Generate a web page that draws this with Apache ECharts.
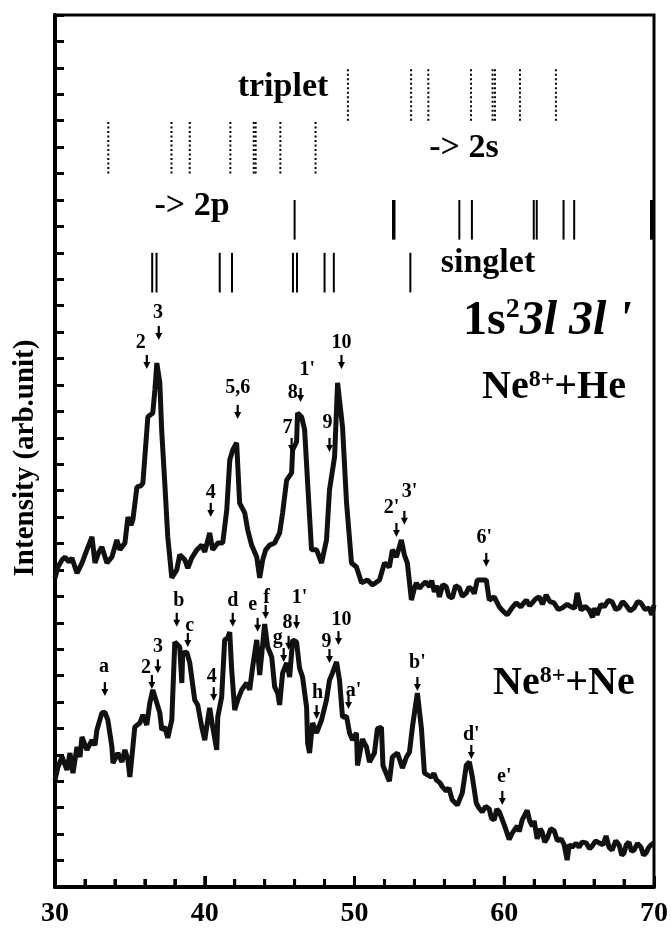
<!DOCTYPE html>
<html><head><meta charset="utf-8">
<script src="https://cdn.jsdelivr.net/npm/echarts@6/dist/echarts.min.js"></script>
<style>html,body{margin:0;padding:0;background:#fff}#c{width:671px;height:945px}</style>
</head><body><div id="c"></div>
<script>
// ---- data (x: energy-like axis 30..70, y: intensity arb. units 0..33) ----
const xTicks = [30, 40, 50, 60, 70];
const xMinorTicks = [32, 34, 36, 38, 42, 44, 46, 48, 52, 54, 56, 58, 62, 64, 66, 68];

const heSpectrum = [
[30.0,11.70],[30.2,12.11],[30.47,12.38],[30.67,12.49],[30.93,12.30],[31.13,12.45],[31.47,11.88],[31.8,12.26],[32.13,12.76],[32.47,13.25],[32.67,12.26],[32.93,12.68],[33.13,12.87],[33.47,12.26],[33.8,12.49],[34.13,13.13],[34.33,12.76],[34.67,13.02],[34.87,14.0],[35.07,13.70],[35.2,13.89],[35.47,15.14],[35.73,15.18],[35.87,15.29],[36.0,16.28],[36.2,17.79],[36.53,17.94],[36.67,18.81],[36.8,19.83],[37.0,19.08],[37.13,17.22],[37.33,15.29],[37.53,13.25],[37.8,11.70],[38.13,12.0],[38.33,12.57],[38.67,12.38],[38.87,12.07],[39.13,12.45],[39.47,12.76],[39.8,12.94],[40.0,12.68],[40.33,13.40],[40.53,12.76],[40.87,13.02],[41.2,13.02],[41.47,14.27],[41.67,16.16],[41.87,16.54],[42.13,16.81],[42.33,14.53],[42.67,14.16],[42.87,13.51],[43.13,12.94],[43.47,12.49],[43.67,11.70],[43.87,12.38],[44.07,12.76],[44.33,12.94],[44.67,13.02],[45.0,13.40],[45.2,14.16],[45.47,15.40],[45.8,15.67],[45.87,16.54],[46.13,16.84],[46.2,17.94],[46.47,17.79],[46.67,17.30],[46.87,15.29],[47.13,12.76],[47.47,12.76],[47.8,12.26],[48.13,13.13],[48.33,15.03],[48.67,16.28],[48.87,19.08],[49.2,17.41],[49.47,14.53],[49.8,12.26],[50.13,12.11],[50.47,11.51],[50.87,11.62],[51.2,11.43],[51.67,11.62],[52.0,12.26],[52.33,12.11],[52.53,12.76],[52.8,12.49],[53.13,13.13],[53.33,12.57],[53.53,12.26],[53.8,10.86],[54.0,11.3],[54.13,11.51],[54.33,11.3],[54.53,11.43],[54.75,11.55],[55.0,11.36],[55.15,11.6],[55.33,11.17],[55.5,11.4],[55.67,10.98],[55.9,11.45],[56.13,11.36],[56.3,11.0],[56.53,10.94],[56.75,11.4],[57.0,11.32],[57.2,11.0],[57.47,11.13],[57.65,11.35],[57.87,11.24],[58.0,11.1],[58.2,11.62],[58.8,11.62],[59.0,10.86],[59.33,10.98],[59.67,10.60],[59.9,10.45],[60.2,10.30],[60.5,10.55],[60.8,10.75],[61.1,10.6],[61.47,10.86],[61.7,10.65],[61.87,10.75],[62.1,10.9],[62.33,10.98],[62.55,10.7],[62.8,11.05],[63.05,10.8],[63.33,10.75],[63.6,10.5],[63.87,10.56],[64.2,10.7],[64.47,10.60],[64.7,10.55],[64.87,11.13],[65.0,11.1],[65.13,10.48],[65.4,10.62],[65.67,10.48],[65.9,10.2],[66.0,10.55],[66.2,10.30],[66.45,10.7],[66.67,10.60],[66.95,10.85],[67.2,10.79],[67.45,10.5],[67.67,10.56],[67.9,10.8],[68.13,10.67],[68.4,10.45],[68.67,10.56],[68.9,10.8],[69.13,10.75],[69.4,10.5],[69.67,10.56],[69.85,10.3],[70.0,10.67]
];

const neSpectrum = [
[30.0,4.05],[30.2,4.54],[30.47,4.92],[30.8,4.43],[31.0,5.07],[31.2,4.31],[31.47,5.30],[31.67,4.92],[31.8,5.68],[32.13,5.19],[32.47,5.56],[32.67,5.37],[32.8,5.94],[33.13,6.59],[33.33,6.62],[33.53,6.32],[33.8,5.30],[33.87,4.69],[34.2,5.07],[34.47,4.73],[34.67,5.19],[34.87,4.81],[35.0,4.16],[35.2,5.30],[35.33,6.06],[35.67,6.21],[35.87,6.51],[36.13,6.13],[36.33,6.96],[36.53,7.46],[36.8,6.96],[37.0,6.59],[37.13,5.94],[37.33,6.06],[37.53,5.64],[37.8,6.32],[38.0,9.27],[38.33,9.08],[38.47,7.72],[38.53,8.86],[38.8,8.89],[39.0,8.48],[39.33,7.08],[39.53,6.89],[39.8,6.06],[40.0,5.56],[40.2,6.32],[40.33,6.78],[40.53,6.06],[40.8,5.19],[40.87,6.43],[41.13,7.19],[41.2,7.95],[41.33,9.35],[41.53,9.42],[41.67,9.65],[41.8,8.21],[42.0,6.70],[42.2,7.08],[42.47,7.46],[42.8,7.72],[43.0,7.46],[43.2,8.33],[43.47,9.35],[43.67,8.02],[44.0,9.95],[44.2,9.08],[44.47,8.71],[44.67,7.57],[44.87,7.34],[45.0,6.89],[45.2,8.10],[45.47,8.48],[45.67,7.95],[45.87,9.35],[46.13,9.27],[46.33,8.29],[46.53,7.95],[46.8,6.81],[46.87,5.45],[47.0,5.07],[47.2,6.21],[47.47,5.83],[47.8,6.32],[48.13,7.08],[48.33,7.83],[48.53,8.10],[48.8,8.52],[49.0,7.83],[49.2,6.43],[49.47,6.45],[49.67,5.83],[49.87,5.56],[50.13,5.83],[50.2,4.6],[50.53,5.6],[50.8,5.3],[51.0,4.73],[51.33,5.07],[51.53,6.0],[51.8,6.04],[51.9,4.6],[52.33,4.0],[52.53,4.92],[52.87,5.07],[53.2,4.5],[53.47,4.92],[53.67,5.1],[53.87,6.06],[54.13,7.08],[54.2,7.34],[54.47,6.0],[54.67,4.31],[55.13,4.16],[55.3,4.3],[55.47,4.05],[55.7,3.95],[55.87,3.79],[56.13,3.63],[56.3,3.75],[56.53,3.29],[56.87,3.10],[57.2,3.56],[57.47,4.62],[57.67,4.73],[57.87,4.16],[58.13,3.18],[58.3,3.0],[58.53,2.84],[58.75,3.05],[59.0,2.95],[59.15,2.6],[59.33,2.54],[59.5,2.95],[59.67,2.84],[60.0,2.35],[60.33,1.8],[60.53,2.04],[60.87,2.31],[61.0,2.1],[61.2,2.54],[61.53,2.9],[61.7,2.5],[61.87,2.3],[62.0,2.5],[62.2,1.82],[62.4,2.2],[62.53,2.08],[62.7,1.7],[62.87,1.85],[63.1,2.2],[63.33,2.14],[63.55,1.75],[63.8,1.82],[64.0,1.6],[64.2,1.02],[64.35,1.6],[64.53,1.51],[64.8,1.65],[65.0,1.51],[65.2,1.7],[65.47,1.67],[65.7,1.45],[65.87,1.55],[66.1,1.75],[66.33,1.67],[66.6,1.6],[66.8,1.93],[67.0,1.5],[67.2,1.40],[67.45,1.75],[67.67,1.59],[67.85,1.2],[68.0,1.29],[68.15,1.6],[68.33,1.70],[68.5,1.35],[68.67,1.40],[68.9,1.65],[69.13,1.51],[69.3,1.2],[69.47,1.29],[69.65,1.5],[69.8,1.59],[70.0,1.67]
];

// transition sticks (x positions) and the y-span of each row
const tripletUpperX = [49.56, 53.78, 54.93, 57.78, 59.22, 59.38, 61.05, 63.45];
const tripletUpperSpan = [29, 31];
const tripletLowerX = [33.56, 37.78, 39.0, 41.71, 43.27, 43.4, 45.05, 47.4];
const tripletLowerSpan = [27, 29];
const singletUpperX = [46.0, 52.57, 52.67, 57.0, 57.84, 61.97, 62.17, 63.96, 64.67, 69.8, 69.9];
const singletUpperSpan = [24.5, 26];
const singletLowerX = [36.49, 36.78, 41.0, 41.82, 45.89, 46.16, 48.0, 48.62, 53.73];
const singletLowerSpan = [22.5, 24];

// peak labels [text, x, y] and arrows [x, y]
const heLabels = [['2',35.73,20.59],['3',36.87,21.73],['4',40.4,14.91],['5,6',42.2,18.89],['7',45.53,17.37],['8',45.87,18.70],["1'",46.85,19.57],['9',48.2,17.56],['10',49.13,20.59],["2'",52.47,14.35],["3'",53.67,14.95],["6'",58.67,13.21]];
const heArrows = [[36.13,19.87],[36.93,20.97],[40.4,14.27],[42.2,17.98],[45.8,16.73],[46.4,18.62],[48.33,16.73],[49.13,19.87],[52.8,13.51],[53.33,13.97],[58.8,12.38]];
const neLabels = [['a',33.27,8.33],['2',36.07,8.29],['3',36.87,9.08],['b',38.27,10.83],['c',39.0,9.88],['4',40.47,7.95],['d',41.87,10.83],['e',43.2,10.67],['f',44.13,10.94],['g',44.87,9.42],['8',45.53,9.99],["1'",46.33,10.94],['h',47.53,7.34],['9',48.13,9.27],['10',49.13,10.11],["a'",49.93,7.42],["b'",54.2,8.48],["d'",57.8,5.75],["e'",60.0,4.16]];
const neArrows = [[33.33,7.49],[36.47,7.76],[36.87,8.35],[38.13,10.11],[38.87,9.35],[40.6,7.30],[41.87,10.11],[43.53,9.92],[44.07,10.41],[45.27,8.78],[45.6,9.24],[46.13,10.03],[47.47,6.62],[48.33,8.74],[48.93,9.42],[49.6,7.0],[54.2,7.68],[57.8,5.11],[59.87,3.37]];

// ---- chart ----
const FONT = '"Liberation Serif", "Times New Roman", serif';
const chart = echarts.init(document.getElementById('c'), null, {renderer: 'canvas'});

function stickRows(xs, span) { return xs.map(x => [x, span[0], span[1]]); }
function stickSeries(data, dash, width) {
  return {
    type: 'custom', coordinateSystem: 'cartesian2d', silent: true, z: 3,
    encode: {x: 0, y: [1, 2]}, data: data,
    renderItem: function (params, api) {
      const a = api.coord([api.value(0), api.value(1)]);
      const b = api.coord([api.value(0), api.value(2)]);
      return {type: 'line', shape: {x1: a[0], y1: a[1], x2: b[0], y2: b[1]},
        style: {stroke: '#000', lineWidth: width, lineDash: dash, lineCap: 'butt'}};
    }
  };
}
function tickSeries(values, len) {
  return {
    type: 'custom', coordinateSystem: 'cartesian2d', silent: true, z: 100, clip: false,
    data: values.map(v => [v, 0]),
    renderItem: function (params, api) {
      const p = api.coord([api.value(0), api.value(1)]);
      return {type: 'line', shape: {x1: p[0], y1: p[1], x2: p[0], y2: p[1] - len},
        style: {stroke: '#000', lineWidth: 3}};
    }
  };
}
function labelSeries(list, size) {
  return {
    type: 'custom', coordinateSystem: 'cartesian2d', silent: true, z: 5,
    data: list.map(d => [d[1], d[2]]),
    renderItem: function (params, api) {
      const p = api.coord([api.value(0), api.value(1)]);
      return {type: 'text', x: p[0], y: p[1],
        style: {text: list[params.dataIndex][0], align: 'center', verticalAlign: 'middle',
          fontFamily: FONT, fontWeight: 'bold', fontSize: size, fill: '#000'}};
    }
  };
}
function arrowSeries(list) {
  return {
    type: 'custom', coordinateSystem: 'cartesian2d', silent: true, z: 5,
    data: list,
    renderItem: function (params, api) {
      const c = api.coord([api.value(0), api.value(1)]);
      return {type: 'group', children: [
        {type: 'line', shape: {x1: c[0], y1: c[1] - 7, x2: c[0], y2: c[1] + 1},
          style: {stroke: '#000', lineWidth: 2.2}},
        {type: 'polygon', shape: {points: [[c[0] - 3.5, c[1]], [c[0] + 3.5, c[1]], [c[0], c[1] + 7]]},
          style: {fill: '#000'}}
      ]};
    }
  };
}
function richText(left, top, text, mainSize, mainLH, supSize, supLH) {
  return {type: 'text', left: left, top: top, style: {
    text: text,
    rich: {
      n: {fontFamily: FONT, fontWeight: 'bold', fontSize: mainSize, lineHeight: mainLH, fill: '#000'},
      s: {fontFamily: FONT, fontWeight: 'bold', fontSize: supSize, lineHeight: supLH, verticalAlign: 'top', fill: '#000'},
      i: {fontFamily: FONT, fontWeight: 'bold', fontStyle: 'italic', fontSize: mainSize, lineHeight: mainLH, fill: '#000'}
    }}};
}
function plainText(x, y, text, size) {
  return {type: 'text', x: x, y: y, style: {text: text, align: 'center', verticalAlign: 'middle',
    fontFamily: FONT, fontWeight: 'bold', fontSize: size, fill: '#000'}};
}

const option = {
  animation: false,
  backgroundColor: '#fff',
  grid: {left: 55, right: 16, top: 15, bottom: 58, show: true, borderColor: '#000', borderWidth: 3},
  xAxis: {
    type: 'value', min: xTicks[0], max: xTicks[xTicks.length - 1], interval: 10,
    axisLine: {show: true, onZero: false, lineStyle: {color: '#000', width: 4}},
    axisTick: {show: true, inside: true, length: 11, lineStyle: {color: '#000', width: 3}},
    minorTick: {show: true, splitNumber: 5, length: 8, lineStyle: {color: '#000', width: 3}},
    axisLabel: {show: true, color: '#000', fontFamily: FONT, fontWeight: 'bold', fontSize: 28, margin: 13},
    splitLine: {show: false}, minorSplitLine: {show: false}
  },
  yAxis: {
    type: 'value', min: 0, max: 33, interval: 1,
    axisLine: {show: true, onZero: false, lineStyle: {color: '#000', width: 4}},
    axisTick: {show: true, inside: true, length: 9, lineStyle: {color: '#000', width: 3}},
    axisLabel: {show: false},
    splitLine: {show: false}
  },
  graphic: [
    {type: 'text', x: 26, y: 458, rotation: Math.PI / 2,
      style: {text: 'Intensity (arb.unit)', align: 'center', verticalAlign: 'middle', fontFamily: FONT, fontWeight: 'bold', fontSize: 29, fill: '#000'}},
    plainText(283, 87, 'triplet', 34),
    plainText(464, 148, '-> 2s', 34),
    plainText(192, 206, '-> 2p', 34),
    plainText(488, 263, 'singlet', 34),
    richText(463, 296, '{n|1s}{s|2}{i|3l 3l \'}', 48, 52, 28, 32),
    richText(482, 368, '{n|Ne}{s|8+}{n|+He}', 40, 40, 24, 16),
    richText(493, 664, '{n|Ne}{s|8+}{n|+Ne}', 40, 40, 24, 16)
  ],
  series: [
    {type: 'line', name: 'Ne8+ + He', data: heSpectrum, showSymbol: false, symbol: 'none', z: 2,
      lineStyle: {color: '#111', width: 5}, silent: true},
    {type: 'line', name: 'Ne8+ + Ne', data: neSpectrum, showSymbol: false, symbol: 'none', z: 2,
      lineStyle: {color: '#111', width: 5}, silent: true},
    tickSeries(xTicks.slice(1, -1), 11),
    tickSeries(xMinorTicks, 8),
    stickSeries(stickRows(tripletUpperX, tripletUpperSpan), [2, 2.5], 2),
    stickSeries(stickRows(tripletLowerX, tripletLowerSpan), [2, 2.5], 2),
    stickSeries(stickRows(singletUpperX, singletUpperSpan), null, 2),
    stickSeries(stickRows(singletLowerX, singletLowerSpan), null, 2),
    labelSeries(heLabels, 20),
    arrowSeries(heArrows),
    labelSeries(neLabels, 20),
    arrowSeries(neArrows)
  ]
};
chart.setOption(option);
</script></body></html>
